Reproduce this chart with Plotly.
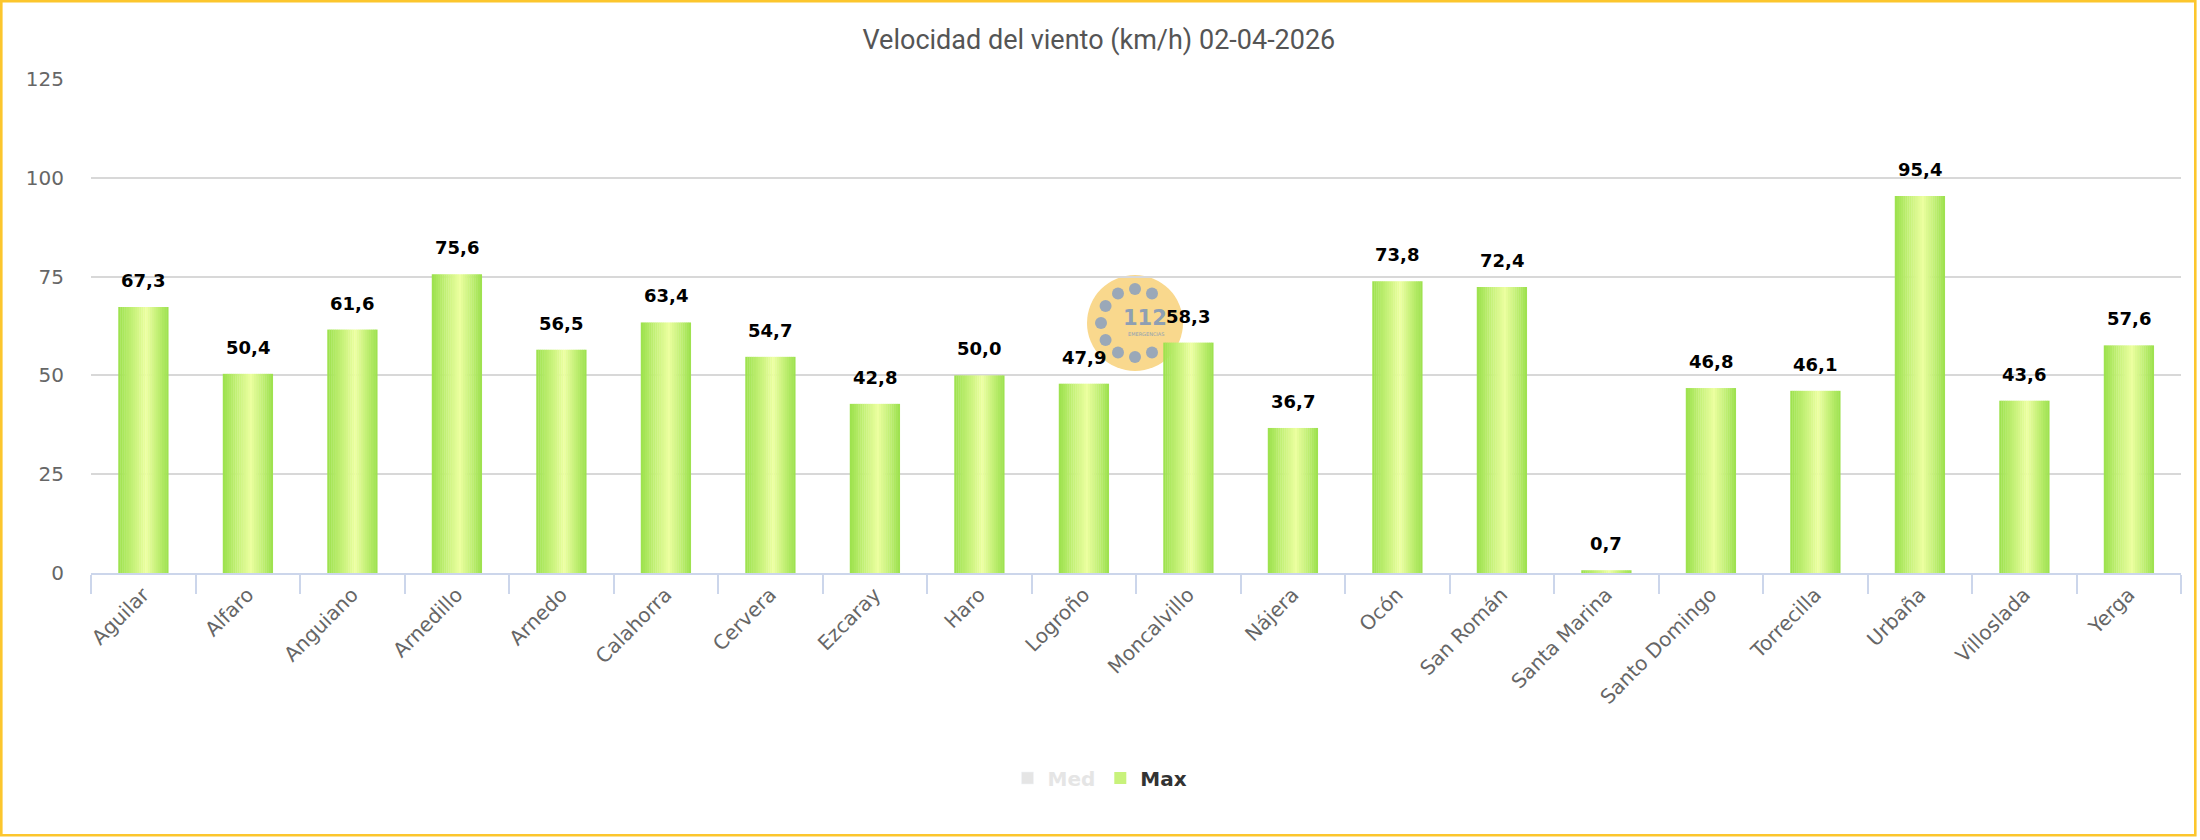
import math
import plotly.graph_objects as go

# ---------------- data ----------------
categories = ["Aguilar", "Alfaro", "Anguiano", "Arnedillo", "Arnedo", "Calahorra",
              "Cervera", "Ezcaray", "Haro", "Logroño", "Moncalvillo", "Nájera",
              "Ocón", "San Román", "Santa Marina", "Santo Domingo", "Torrecilla",
              "Urbaña", "Villoslada", "Yerga"]
max_values = [67.3, 50.4, 61.6, 75.6, 56.5, 63.4, 54.7, 42.8, 50.0, 47.9,
              58.3, 36.7, 73.8, 72.4, 0.7, 46.8, 46.1, 95.4, 43.6, 57.6]
med_values = [None] * len(categories)   # hidden series (legend only)
y_ticks = [0, 25, 50, 75, 100, 125]
title_text = "Velocidad del viento (km/h) 02-04-2026"

# ---------------- layout constants (pixels) ----------------
W, H = 2200, 840
L, R, T, B = 91, 19, 79, 267
PW, PH = W - L - R, H - T - B


def px2x(px):
    return (px - L) / PW


def py2y(py):
    return (H - B - py) / PH


GREEN = (155, 225, 76)
LIGHT = (236, 255, 160)
PEAK = 0.56


def grad_color(t):
    f = t / PEAK if t < PEAK else (1 - t) / (1 - PEAK)
    f = max(0.0, min(1.0, f))
    c = [round(g + (l - g) * f) for g, l in zip(GREEN, LIGHT)]
    return "rgb(%d,%d,%d)" % tuple(c)


fig = go.Figure()

fig.add_trace(go.Bar(
    x=categories, y=med_values, name='<span style="color:#cccccc">Med</span>',
    marker=dict(color="#cccccc"), visible="legendonly",
))

BW = 0.478
N = 24
legend_idx = 7
for i in range(N):
    t = (i + 0.5) / N
    fig.add_trace(go.Bar(
        x=categories, y=max_values, name="Max",
        width=BW / N * 1.15, offset=-BW / 2 + i * BW / N,
        marker=dict(color=grad_color(t), line=dict(width=0)),
        legendgroup="max", showlegend=(i == legend_idx),
        hoverinfo="skip",
    ))

annotations = []
for c, v in zip(categories, max_values):
    annotations.append(dict(
        x=c, y=v, xref="x", yref="y", text=("%.1f" % v).replace(".", ","),
        showarrow=False, yanchor="bottom", yshift=14,
        font=dict(family="DejaVu Sans", size=18, color="#000000", weight="bold"),
    ))

# watermark logo (112)
shapes = []
cx, cy = 1135, 323
shapes.append(dict(type="circle", xref="paper", yref="paper", layer="below",
                   xsizemode="pixel", ysizemode="pixel",
                   xanchor=px2x(cx), yanchor=py2y(cy),
                   x0=-48, x1=48, y0=-48, y1=48,
                   fillcolor="#f9d88d", line=dict(width=0)))
for ang in [0, 30, 150, 180, 210, 240, 270, 300, 330]:
    a = math.radians(ang)
    dx, dy = 34 * math.sin(a), 34 * math.cos(a)
    shapes.append(dict(type="circle", xref="paper", yref="paper", layer="below",
                       xsizemode="pixel", ysizemode="pixel",
                       xanchor=px2x(cx + dx), yanchor=py2y(cy - dy),
                       x0=-6, x1=6, y0=-6, y1=6,
                       fillcolor="#9aa8b8", line=dict(width=0)))
annotations.append(dict(x=px2x(1145), y=py2y(318), xref="paper", yref="paper",
                        text="<b>112</b>", showarrow=False,
                        font=dict(family="DejaVu Sans", size=21, color="#8e9fb3")))
annotations.append(dict(x=px2x(1146), y=py2y(334), xref="paper", yref="paper",
                        text="EMERGENCIAS", showarrow=False,
                        font=dict(family="DejaVu Sans", size=5, color="#8e9fb3")))

# outer border
shapes.append(dict(type="rect", xref="paper", yref="paper", layer="above",
                   x0=px2x(1.3), x1=px2x(2195.3), y0=py2y(835.3), y1=py2y(1.2),
                   line=dict(color="#fcc62d", width=2.6), fillcolor="rgba(0,0,0,0)"))

fig.update_layout(
    width=W, height=H,
    margin=dict(l=L, r=R, t=T, b=B, pad=0),
    paper_bgcolor="#ffffff", plot_bgcolor="#ffffff",
    barmode="overlay",
    separators=",.",
    title=dict(text=title_text, x=0.4995, xref="container", xanchor="center",
               y=1 - 40 / H, yref="container", yanchor="middle",
               font=dict(family="Liberation Sans Narrow, Roboto, sans-serif",
                         size=27, color="#555555")),
    xaxis=dict(type="category", range=[-0.5, len(categories) - 0.5],
               showgrid=False, zeroline=False,
               showline=True, linecolor="#ccd6eb", linewidth=2,
               ticks="outside", tickson="boundaries", ticklen=19, tickwidth=2,
               tickcolor="#ccd6eb", tickangle=-45,
               tickfont=dict(family="DejaVu Sans", size=20, color="#666666"),
               automargin=False),
    yaxis=dict(range=[0, 125], tickvals=y_ticks, showgrid=True,
               gridcolor="#d8d8d8", gridwidth=2, zeroline=False, showline=False,
               tickfont=dict(family="DejaVu Sans", size=20, color="#666666"),
               ticklabelstandoff=26, automargin=False),
    legend=dict(orientation="h", xref="container", yref="container",
                x=0.5, xanchor="center", y=1 - 778 / H, yanchor="middle",
                font=dict(family="DejaVu Sans", size=20, color="#333333", weight="bold"),
                itemclick=False, itemdoubleclick=False),
    annotations=annotations,
    shapes=shapes,
    showlegend=True,
)

fig.write_html("out.html")
